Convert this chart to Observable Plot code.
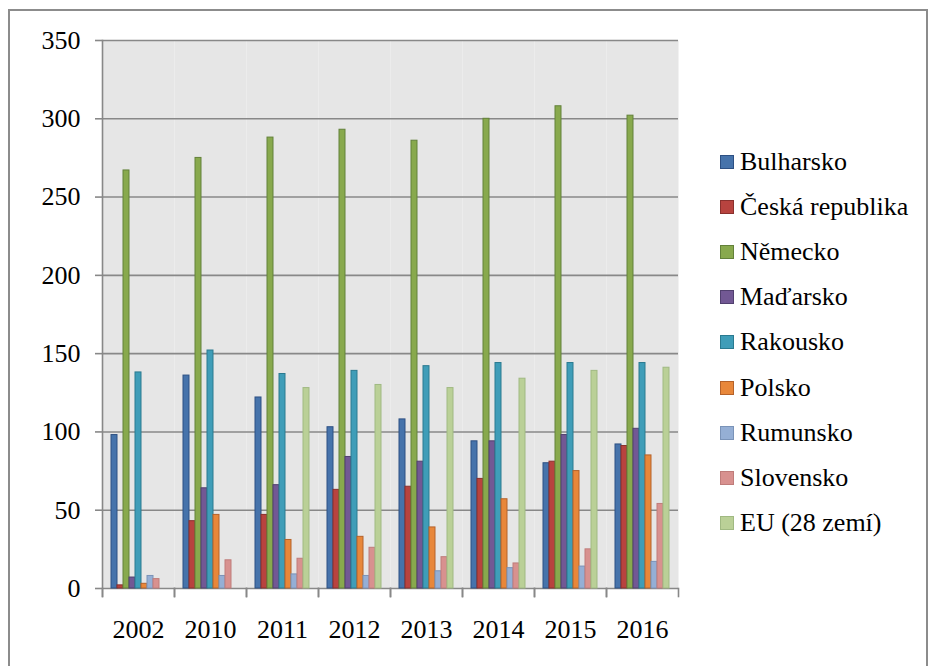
<!DOCTYPE html>
<html>
<head>
<meta charset="utf-8">
<script src="https://cdn.jsdelivr.net/npm/d3@7"></script>
<script src="https://cdn.jsdelivr.net/npm/@observablehq/plot@0.6"></script>
<style>
  html, body { margin: 0; padding: 0; background: #fff; overflow: hidden; }
  #wrap { position: relative; width: 929px; height: 666px; font-family: "Liberation Serif", "Times New Roman", Times, "DejaVu Serif", "Noto Serif", serif; }
  #border { position: absolute; left: 8px; top: 9px; width: 920px; height: 700px; border: 2px solid #8c8c8c; box-sizing: border-box; }
  #chart { position: absolute; left: 0; top: 0; }
  #legend { position: absolute; left: 720px; top: 139px; }
  .row { display: flex; align-items: center; height: 45.2px; }
  .sw { width: 14px; height: 14px; box-sizing: border-box; border: 1px solid; margin-right: 6px; }
  .lab { font-size: 26px; color: #000; white-space: nowrap; line-height: 1; font-family: "Liberation Serif", "Times New Roman", Times, "DejaVu Serif", serif; }
</style>
</head>
<body>
<div id="wrap">
  <div id="border"></div>
  <div id="chart"></div>
  <div id="legend"></div>
</div>
<script>
const years = ["2002", "2010", "2011", "2012", "2013", "2014", "2015", "2016"];
const countries = ["Bulharsko", "Česká republika", "Německo", "Maďarsko", "Rakousko", "Polsko", "Rumunsko", "Slovensko", "EU (28 zemí)"];
const bulharsko = [98, 136, 122, 103, 108, 94, 80, 92];
const ceska = [2, 43, 47, 63, 65, 70, 81, 91];
const nemecko = [267, 275, 288, 293, 286, 300, 308, 302];
const madarsko = [7, 64, 66, 84, 81, 94, 98, 102];
const rakousko = [138, 152, 137, 139, 142, 144, 144, 144];
const polsko = [3, 47, 31, 33, 39, 57, 75, 85];
const rumunsko = [8, 8, 9, 8, 11, 13, 14, 17];
const slovensko = [6, 18, 19, 26, 20, 16, 25, 54];
const eu = [null, null, 128, 130, 128, 134, 139, 141];
const yTicks = [0, 50, 100, 150, 200, 250, 300, 350];

const series = [bulharsko, ceska, nemecko, madarsko, rakousko, polsko, rumunsko, slovensko, eu];
const fills = ["#4673ab", "#b8433f", "#88a94d", "#725894", "#3f9db8", "#e8873a", "#95afd5", "#d8918f", "#bad097"];
const strokes = ["#2d5083", "#8a302d", "#63813a", "#51406f", "#2a7a90", "#b5622a", "#7a93b8", "#bf7c7a", "#a0b982"];

const data = countries.flatMap((c, i) =>
  years.map((y, j) => ({ year: y, country: c, value: series[i][j] }))
).filter(d => d.value != null);

const gray = "#888888";
const serif = "'Liberation Serif', 'Times New Roman', Times, 'DejaVu Serif', serif";

const chart = Plot.plot({
  width: 929,
  height: 666,
  marginLeft: 100,
  marginTop: 40,
  marginRight: 250,
  marginBottom: 78,
  style: { fontFamily: serif, color: "#000", background: "transparent" },
  fx: { domain: years, padding: 0 },
  x: { domain: countries, paddingInner: 0, paddingOuter: 0.75, axis: null },
  y: { domain: [0, 350] },
  marks: [
    Plot.frame({ fill: "#e6e6e6", stroke: null }),
    Plot.gridY(yTicks, { stroke: gray, strokeOpacity: 1, strokeWidth: 1.6 }),
    Plot.axisY(yTicks, { tickSize: 7, tickPadding: 15, fontSize: 26, fontFamily: serif, stroke: gray, strokeWidth: 1.6, color: "#000", label: null }),
    Plot.frame({ anchor: "left", facetAnchor: "left", stroke: gray, strokeWidth: 1.6, insetBottom: -8 }),
    Plot.frame({ anchor: "left", stroke: gray, strokeWidth: 1.6, insetTop: 548, insetBottom: -8 }),
    Plot.frame({ anchor: "right", stroke: gray, strokeWidth: 1.6, insetTop: 548, insetBottom: -8 }),
    Plot.axisFx({ anchor: "bottom", tickSize: 0, tickPadding: 31, fontSize: 26, fontFamily: serif, label: null }),
    ...countries.map((c, i) =>
      Plot.barY(data.filter(d => d.country === c), {
        fx: "year", x: "country", y: "value",
        fill: fills[i], stroke: strokes[i], strokeWidth: 1
      })
    )
  ]
});
document.getElementById("chart").appendChild(chart);

const legend = d3.select("#legend");
countries.forEach((c, i) => {
  const row = legend.append("div").attr("class", "row");
  row.append("div").attr("class", "sw").style("background", fills[i]).style("border-color", strokes[i]);
  row.append("div").attr("class", "lab").text(c);
});
</script>
</body>
</html>
